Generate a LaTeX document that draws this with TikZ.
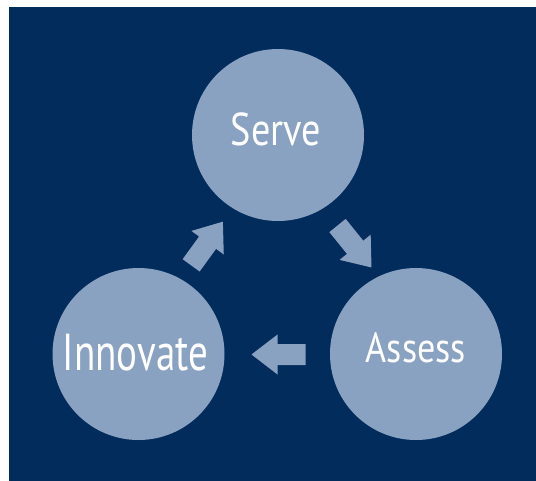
\documentclass[tikz,border=0pt]{standalone}
\usepackage{fontspec}
\setmainfont{PT Sans}
\definecolor{navy}{RGB}{1,44,92}
\definecolor{disc}{RGB}{138,162,194}
\tikzset{
  stage/.style={circle, fill=disc, draw=none, minimum size=172pt, inner sep=0pt},
  lbl/.style={text=white, inner sep=0pt, anchor=base},
  pics/blockarrow/.style={code={
    \fill[disc] (-27,-10.5) -- (1,-10.5) -- (1,-20) -- (27,0) -- (1,20)
      -- (1,10.5) -- (-27,10.5) -- cycle;}},
}
\begin{document}
\begin{tikzpicture}[x=1pt,y=-1pt]
\useasboundingbox (0,0) rectangle (536,480);
\fill[white] (0,0) rectangle (536,480);
\fill[navy] (9,7) rectangle (560,500);
\node[stage] (serve) at (278,135) {};
\node[stage] (assess) at (416,354) {};
\node[stage] (innovate) at (138.5,354) {};
\node[lbl] (tserve) at (276,145) {\scalebox{0.83}[1]{\fontsize{46}{46}\selectfont Serve}};
\node[lbl] (tassess) at (416,362) {\scalebox{0.86}[1]{\fontsize{42}{42}\selectfont Assess}};
\node[lbl] (tinnovate) at (135.5,370) {\scalebox{0.75}[1]{\fontsize{52}{52}\selectfont Innovate}};
\pic[rotate=-51] (a1) at (354.5,246.5) {blockarrow};
\pic[rotate=180] (a2) at (278.5,354.5) {blockarrow};
\pic[rotate=54] (a3) at (207,243.5) {blockarrow};
\end{tikzpicture}
\end{document}
